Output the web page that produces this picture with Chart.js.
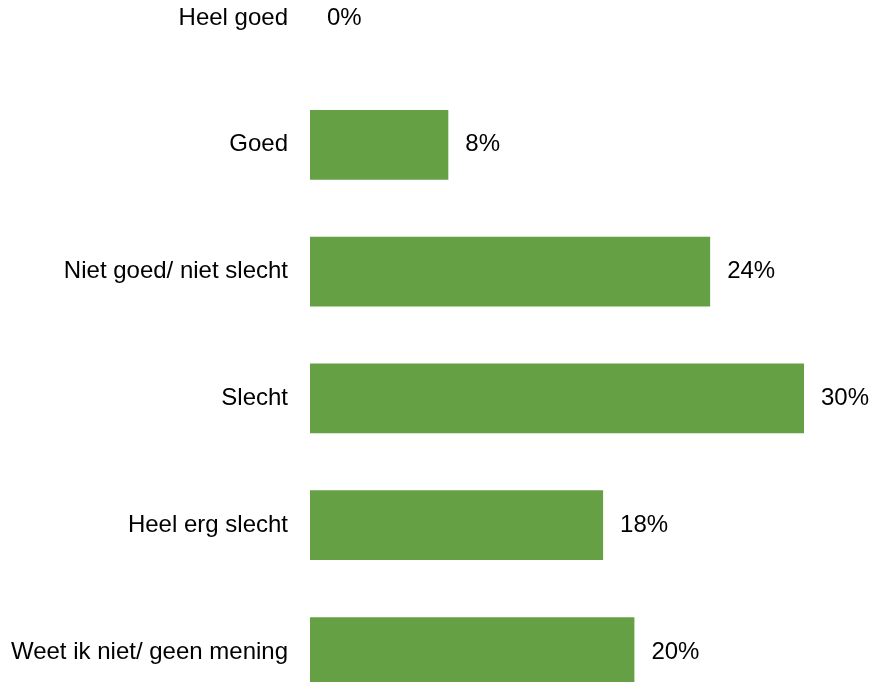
<!DOCTYPE html>
<html>
<head>
<meta charset="utf-8">
<script src="https://cdn.jsdelivr.net/npm/chart.js@4"></script>
<style>
  html, body { margin: 0; padding: 0; background: #fff; }
  #wrap { width: 877px; height: 682px; }
</style>
</head>
<body>
<div id="wrap"><canvas id="chart" width="877" height="682"></canvas></div>
<script>
// categories en waarden (gelezen uit de figuur)
const categories = ['Heel goed', 'Goed', 'Niet goed/ niet slecht', 'Slecht', 'Heel erg slecht', 'Weet ik niet/ geen mening'];
const percentages = [0, 8.4, 24.3, 30.0, 17.8, 19.7];

const barColor = '#65a044';
const fontFamily = '"Liberation Sans", Arial, sans-serif';

// waarde-labels rechts van de balk
const valueLabels = {
    id: 'valueLabels',
    afterDatasetsDraw(chart) {
        const ctx = chart.ctx;
        const meta = chart.getDatasetMeta(0);
        ctx.save();
        ctx.font = '24px ' + fontFamily;
        ctx.fillStyle = '#000';
        ctx.textAlign = 'left';
        ctx.textBaseline = 'middle';
        meta.data.forEach((bar, i) => {
            ctx.fillText(Math.round(percentages[i]) + '%', bar.x + 17, bar.y);
        });
        ctx.restore();
    }
};

new Chart(document.getElementById('chart'), {
    type: 'bar',
    data: {
        labels: categories,
        datasets: [{
            data: percentages,
            backgroundColor: barColor,
            categoryPercentage: 1,
            barPercentage: 0.55,
            clip: false
        }]
    },
    options: {
        indexAxis: 'y',
        responsive: false,
        animation: false,
        layout: { padding: { top: 18, bottom: 30, left: 0, right: 73 } },
        plugins: {
            legend: { display: false },
            tooltip: { enabled: false }
        },
        scales: {
            x: {
                display: false,
                min: 0,
                max: 30
            },
            y: {
                offset: false,
                grid: { display: false, drawTicks: false },
                border: { display: false },
                ticks: {
                    autoSkip: false,
                    padding: 22,
                    color: '#000',
                    font: { family: fontFamily, size: 24 }
                },
                afterFit(scale) {
                    scale.width = 310;
                    scale.paddingTop = 0;
                    scale.paddingBottom = 0;
                }
            }
        }
    },
    plugins: [valueLabels]
});
</script>
</body>
</html>
